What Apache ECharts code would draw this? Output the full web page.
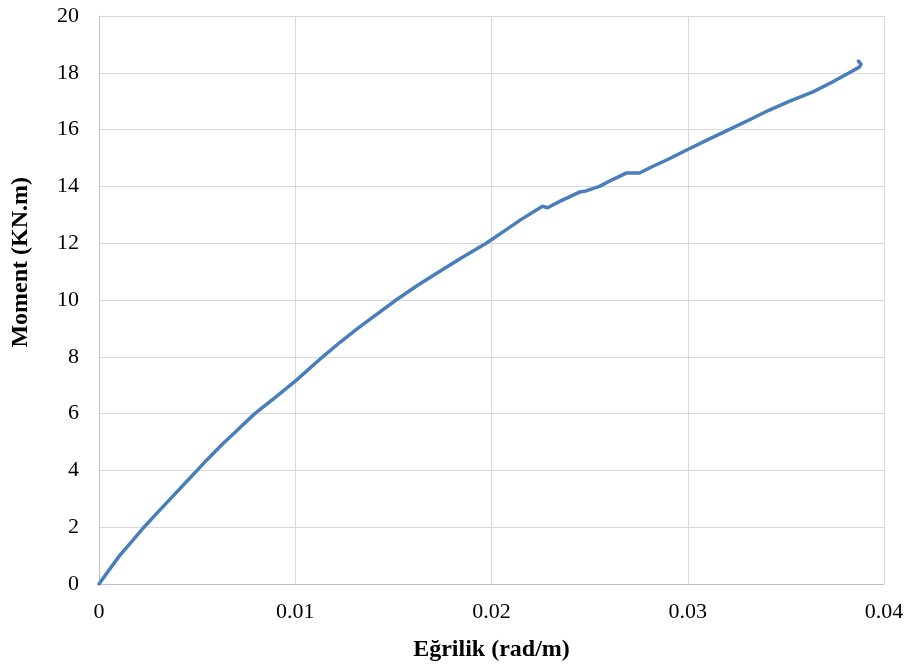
<!DOCTYPE html>
<html>
<head>
<meta charset="utf-8">
<script src="https://cdn.jsdelivr.net/npm/echarts@6/dist/echarts.min.js"></script>
<style>html,body{margin:0;padding:0;background:#fff;}#c{width:911px;height:670px;}</style>
</head>
<body>
<div id="c"></div>
<script>
const curvature = [0, 0.0005, 0.00105, 0.0017, 0.00229, 0.003, 0.0036, 0.00455, 0.0050, 0.00548, 0.0064, 0.0069, 0.0072, 0.00794, 0.0090, 0.01006, 0.0114, 0.0123, 0.01318, 0.0142, 0.01514, 0.0162, 0.01735, 0.0185, 0.01973, 0.0207, 0.0215, 0.0226, 0.02286, 0.0235, 0.0240, 0.02448, 0.02482, 0.0255, 0.0262, 0.02686, 0.02754, 0.0282, 0.0289, 0.0300, 0.0310, 0.0321, 0.0331, 0.03413, 0.0352, 0.03635, 0.0373, 0.03823, 0.03874, 0.03883, 0.0387];
const moment = [0, 0.48, 1.0, 1.52, 2.0, 2.53, 2.97, 3.67, 4.0, 4.36, 5.0, 5.32, 5.52, 6.0, 6.58, 7.18, 8.0, 8.52, 9.0, 9.52, 10.0, 10.5, 11.0, 11.5, 12.0, 12.45, 12.83, 13.30, 13.25, 13.48, 13.64, 13.80, 13.84, 14.0, 14.25, 14.47, 14.47, 14.70, 14.92, 15.30, 15.64, 16.0, 16.33, 16.68, 17.0, 17.32, 17.65, 18.0, 18.2, 18.30, 18.41];
const xTicks = [0, 0.01, 0.02, 0.03, 0.04];
const yTicks = [0, 2, 4, 6, 8, 10, 12, 14, 16, 18, 20];
const xTitle = 'Eğrilik (rad/m)';
const yTitle = 'Moment (KN.m)';

const font = '"Liberation Serif", "Times New Roman", serif';
const chart = echarts.init(document.getElementById('c'));
chart.setOption({
  animation: false,
  grid: {left: 99, right: 27, top: 16, bottom: 86},
  xAxis: {
    type: 'value', min: xTicks[0], max: xTicks[xTicks.length - 1], interval: 0.01,
    axisLine: {show: true, lineStyle: {color: '#bfbfbf', width: 1}},
    axisTick: {show: false},
    splitLine: {show: true, lineStyle: {color: '#d9d9d9', width: 1}},
    axisLabel: {color: '#000', fontFamily: font, fontSize: 22, margin: 17},
    name: xTitle, nameLocation: 'middle', nameGap: 54,
    nameTextStyle: {color: '#000', fontFamily: font, fontSize: 24, fontWeight: 'bold'}
  },
  yAxis: {
    type: 'value', min: yTicks[0], max: yTicks[yTicks.length - 1], interval: 2,
    axisLine: {show: true, lineStyle: {color: '#bfbfbf', width: 1}},
    axisTick: {show: false},
    splitLine: {show: true, lineStyle: {color: '#d9d9d9', width: 1}},
    axisLabel: {color: '#000', fontFamily: font, fontSize: 22, margin: 20}
  },
  graphic: [{
    type: 'text', left: 9, top: 177, rotation: Math.PI / 2,
    style: {text: yTitle, fill: '#000', font: 'bold 24px ' + font}
  }],
  series: [{
    type: 'line', showSymbol: false, smooth: false,
    data: curvature.map((c, i) => [c, moment[i]]),
    lineStyle: {color: '#4a7ebb', width: 3.5, join: 'round', cap: 'round'},
    itemStyle: {color: '#4a7ebb'}
  }]
});
</script>
</body>
</html>
